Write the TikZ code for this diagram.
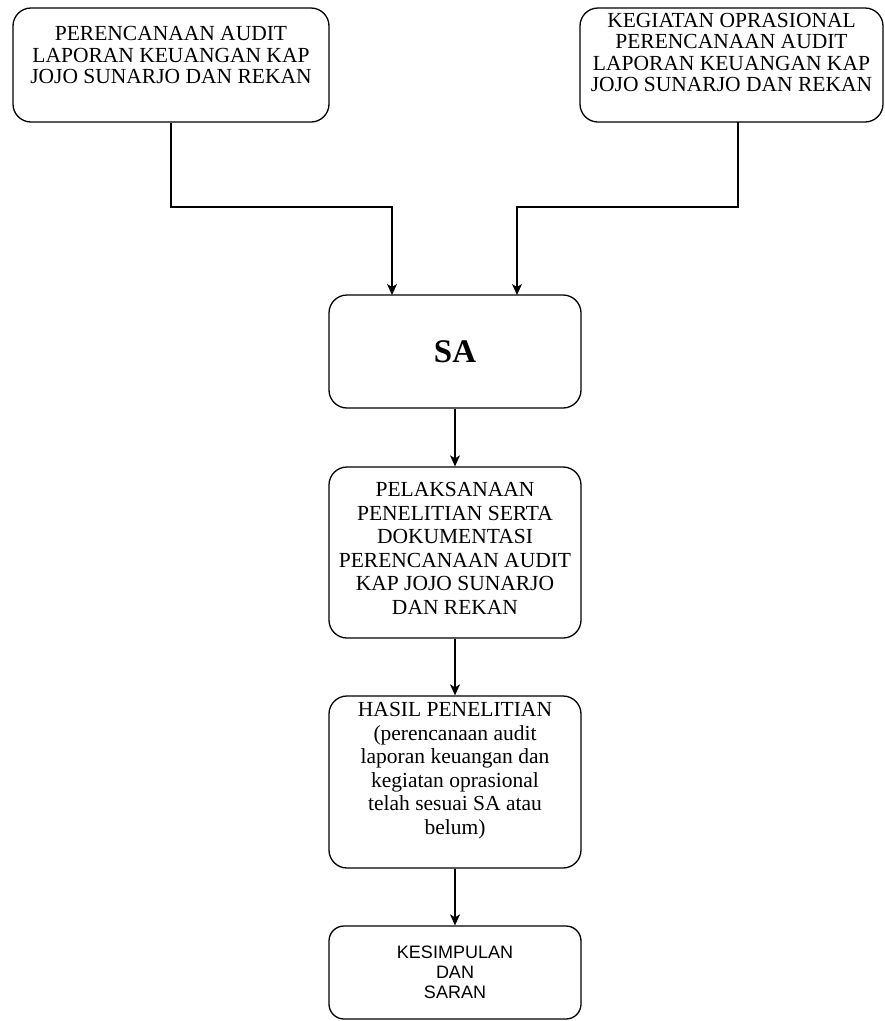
\documentclass[tikz,border=0pt]{standalone}
\usepackage{fontspec}
\setmainfont{Liberation Serif}
\setsansfont{Liberation Sans}
\usetikzlibrary{arrows.meta}

\begin{document}
\begin{tikzpicture}[x=1pt, y=-1pt,
        box/.style={draw=black, line width=1.3pt, rounded corners=18pt, align=center, inner sep=2pt,
            font=\fontsize{21.5}{21.5}\selectfont},
        link/.style={draw=black, line width=1.3pt, -{Stealth[length=11pt, width=10pt, inset=3pt]}}]
            \useasboundingbox (0,0) rectangle (885,1021);

            \node[box, minimum width=316pt, minimum height=114pt, text depth=20pt] (audit) at (171,65)
                {PERENCANAAN AUDIT\\LAPORAN KEUANGAN KAP\\JOJO SUNARJO DAN REKAN};
            \node[box, minimum width=303pt, minimum height=114pt, text depth=25pt] (oprasional) at (731.5,65)
                {KEGIATAN OPRASIONAL\\PERENCANAAN AUDIT\\LAPORAN KEUANGAN KAP\\JOJO SUNARJO DAN REKAN};
            \node[box, minimum width=252pt, minimum height=113pt, font=\bfseries\fontsize{33}{36}\selectfont] (sa) at (455,351.5) {SA};
            \node[box, minimum width=252pt, minimum height=171pt, text depth=8pt,
                font=\fontsize{21.5}{23.5}\selectfont] (pelaksanaan) at (455,552.5)
                {PELAKSANAAN\\PENELITIAN SERTA\\DOKUMENTASI\\PERENCANAAN AUDIT\\KAP JOJO SUNARJO\\DAN REKAN};
            \node[box, minimum width=252pt, minimum height=172pt, text depth=27pt,
                font=\fontsize{21.5}{23.5}\selectfont] (hasil) at (455,782)
                {HASIL PENELITIAN\\(perencanaan audit\\laporan keuangan dan\\kegiatan oprasional\\telah sesuai SA atau\\belum)};
            \node[box, minimum width=252pt, minimum height=93pt, rounded corners=15pt,
                font=\sffamily\fontsize{18}{20}\selectfont] (kesimpulan) at (455,972.5)
                {KESIMPULAN\\DAN\\SARAN};

            \coordinate (oprasionalout) at (738,122);
            \coordinate (sakiri) at (392,295);
            \coordinate (sakanan) at (517,295);

            \draw[link] (audit.south) -- (audit.south |- 0,207) -| (sakiri);
            \draw[link] (oprasionalout) -- (oprasionalout |- 0,207) -| (sakanan);
            \draw[link] (sa) -- (pelaksanaan);
            \draw[link] (pelaksanaan) -- (hasil);
            \draw[link] (hasil) -- (kesimpulan);
        \end{tikzpicture}
\end{document}
